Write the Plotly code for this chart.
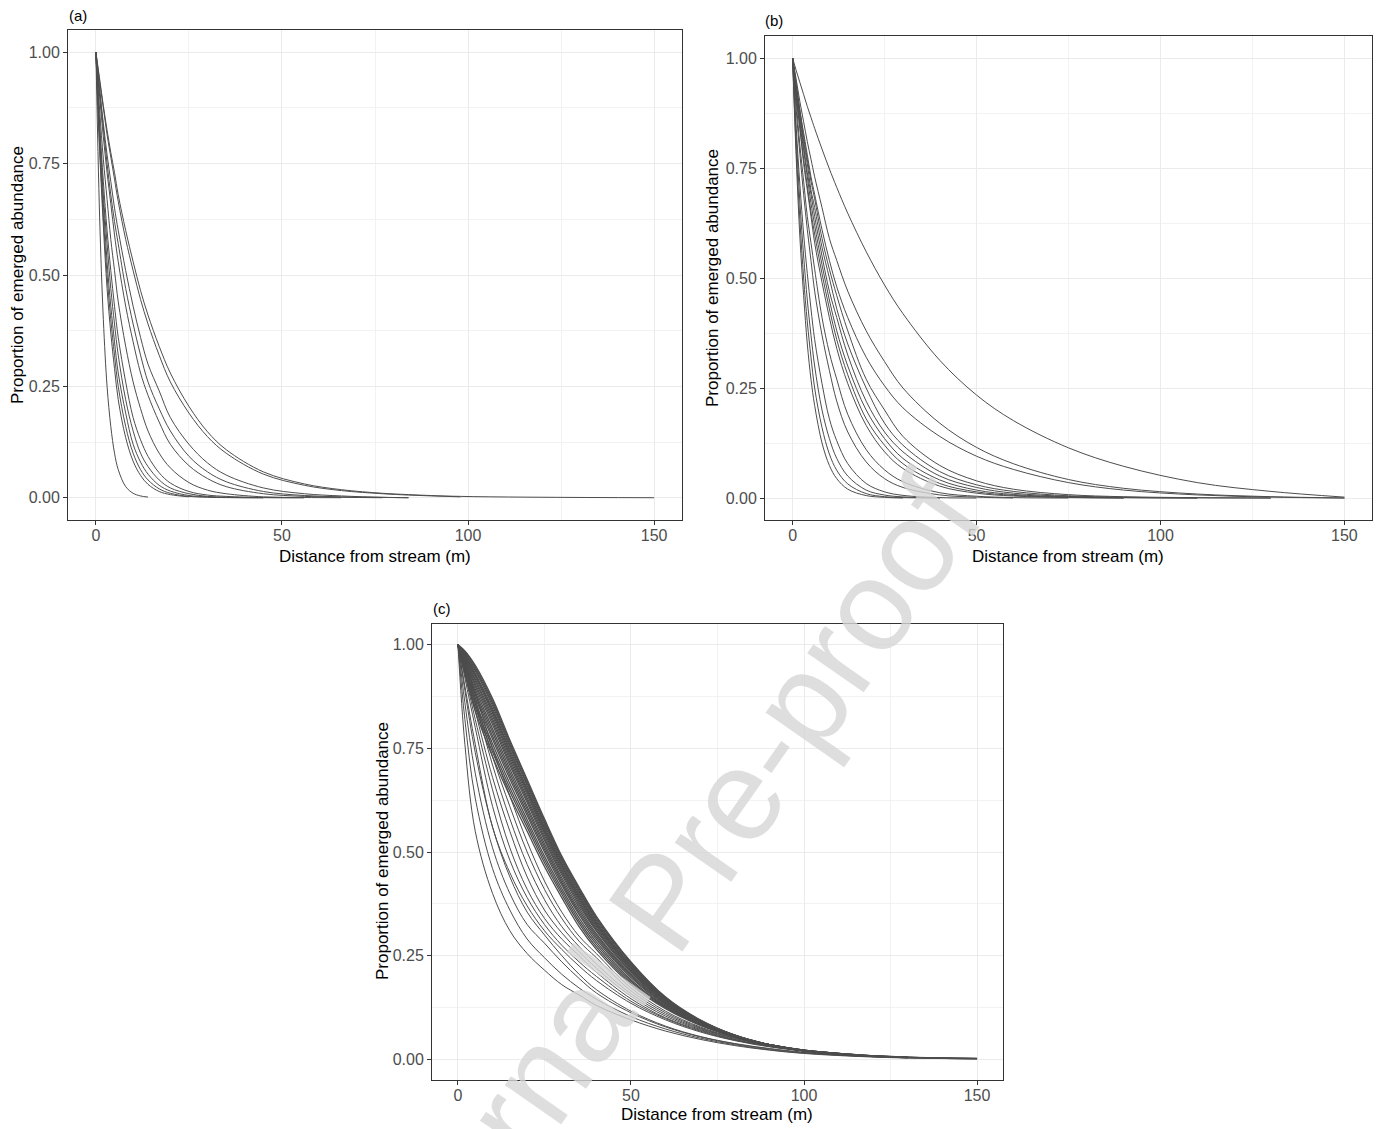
import plotly.graph_objects as go

FONT = "Liberation Sans, Arial, sans-serif"

# ---------------- Panel (a) ----------------
DIST_A = [0, 1, 2, 3, 4, 5, 6, 8, 10, 12, 14, 17, 20, 25, 30, 35, 45, 56, 66, 77, 84, 98, 150]
A01 = [1, .63, .40, .25, .16, .10, .063, .025, .010, .004, .0015]
A02 = [1, .78, .61, .47, .37, .29, .22, .135, .082, .05, .03, .014, .007, .002]
A03 = [1, .79, .63, .50, .40, .32, .25, .16, .10, .063, .04, .02, .01, .003, .001, .0003, 0]
A04 = [1, .81, .66, .53, .43, .35, .28, .19, .12, .08, .053, .028, .015, .005, .002, .0006, 0]
A05 = [1, .83, .68, .57, .47, .39, .32, .22, .15, .10, .07, .04, .022, .009, .003, .001, .0002, 0]
A06 = [1, .84, .71, .60, .51, .43, .36, .26, .18, .13, .093, .056, .033, .014, .006, .003, .0005, 0]
A07 = [1, .87, .76, .67, .58, .51, .44, .34, .26, .20, .15, .10, .067, .034, .017, .009, .002, .0005, 0]
A08 = [1, .90, .81, .73, .66, .59, .53, .43, .35, .28, .23, .17, .12, .072, .043, .025, .009, .003, .001, 0]
A09 = [1, .91, .83, .75, .68, .62, .57, .47, .39, .32, .26, .20, .15, .093, .058, .036, .014, .005, .002, .0007, 0]
A10 = [1, .92, .84, .77, .71, .65, .60, .51, .43, .36, .30, .24, .18, .12, .078, .051, .022, .009, .004, .001, 0]
A11 = [1, .935, .875, .815, .765, .715, .665, .58, .51, .445, .39, .32, .26, .19, .137, .10, .053, .028, .016, .009, .006, .002]
A12 = [1, .94, .88, .825, .775, .73, .68, .60, .53, .465, .41, .34, .28, .205, .148, .108, .058, .031, .018, .010, .007, .003, 0]
CURVES_A = [A01, A02, A03, A04, A05, A06, A07, A08, A09, A10, A11, A12]

# ---------------- Panel (b) ----------------
DIST_B = [0, 1, 2, 3, 4, 5, 6, 8, 10, 12, 15, 20, 25, 30, 40, 50, 60, 75, 90, 110, 130, 150]
B01 = [1, .77, .59, .46, .35, .27, .21, .125, .074, .044, .02, .0055, .0015, 0]
B02 = [1, .79, .63, .50, .40, .32, .25, .16, .10, .063, .032, .01, .003, .001, 0]
B03 = [1, .82, .67, .55, .45, .37, .30, .20, .135, .09, .05, .018, .0067, .0025, 0]
B04 = [1, .84, .71, .60, .51, .43, .36, .26, .18, .13, .078, .033, .014, .006, .001, 0]
B05 = [1, .88, .78, .69, .61, .54, .47, .37, .29, .22, .15, .082, .044, .024, .007, .002, 0]
B06 = [1, .90, .80, .72, .64, .58, .52, .41, .33, .27, .19, .11, .064, .037, .012, .004, .001, 0]
B07 = [1, .91, .84, .76, .70, .64, .58, .49, .41, .34, .26, .165, .105, .067, .027, .011, .0045, .001, 0]
B08 = [1, .92, .84, .77, .71, .65, .60, .51, .43, .36, .28, .18, .12, .078, .033, .014, .006, .0017, 0]
B09 = [1, .92, .85, .79, .73, .67, .62, .53, .45, .38, .30, .20, .135, .09, .041, .018, .008, .0025, .0007, 0]
B10 = [1, .93, .86, .80, .74, .69, .64, .55, .47, .41, .325, .22, .15, .105, .05, .024, .011, .0036, .0012, 0]
B11 = [1, .93, .87, .81, .76, .70, .66, .57, .50, .43, .35, .25, .17, .12, .06, .03, .015, .005, .0018, .0005, 0]
B12 = [1, .94, .88, .82, .77, .72, .68, .59, .52, .46, .38, .27, .20, .14, .074, .039, .02, .0076, .0029, .0008, 0]
B13 = [1, .95, .90, .855, .81, .77, .73, .66, .59, .54, .47, .38, .31, .25, .17, .115, .078, .042, .022, .009, .003, 0]
B14 = [1, .94, .88, .83, .78, .73, .69, .61, .54, .48, .41, .32, .255, .205, .14, .095, .065, .035, .018, .007, .002, 0]
B15 = [1, .971, .944, .917, .89, .865, .84, .793, .748, .706, .647, .56, .484, .419, .313, .234, .176, .114, .072, .035, .015, .002]
CURVES_B = [B01, B02, B03, B04, B05, B06, B07, B08, B09, B10, B11, B12, B13, B14, B15]

# ---------------- Panel (c) ----------------
DIST_C = [0, 2, 5, 10, 15, 20, 25, 30, 35, 40, 50, 60, 70, 80, 90, 100, 115, 130, 150]
L01 = [1, .76, .55, .40, .31, .255, .215, .18, .155, .13, .095, .068, .048, .033, .022, .014, .007, .003, .001]
L02 = [1, .82, .63, .46, .36, .29, .245, .205, .172, .145, .103, .073, .051, .035, .023, .015, .008, .004, .001]
L03 = [1, .86, .69, .51, .40, .325, .28, .235, .195, .16, .112, .078, .054, .037, .025, .016, .008, .004, .001]
L04 = [1, .89, .74, .56, .44, .355, .30, .25, .205, .168, .116, .080, .055, .038, .026, .017, .009, .004, .001]
M01 = [1, .90, .76, .56, .45, .37, .31, .265, .225, .19, .135, .095, .066, .045, .03, .02, .01, .005, .002]
M02 = [1, .92, .80, .61, .48, .39, .325, .275, .235, .20, .14, .098, .068, .046, .031, .02, .01, .005, .002]
M03 = [1, .93, .82, .65, .51, .41, .34, .29, .25, .21, .146, .10, .07, .047, .032, .021, .011, .005, .002]
M04 = [1, .94, .84, .68, .55, .44, .36, .305, .26, .22, .152, .104, .072, .048, .032, .021, .011, .005, .002]
M05 = [1, .95, .86, .71, .58, .47, .385, .32, .272, .23, .158, .108, .074, .05, .033, .022, .011, .005, .002]
M06 = [1, .955, .87, .73, .61, .50, .41, .34, .285, .245, .165, .112, .076, .051, .034, .022, .011, .005, .002]
M07 = [1, .96, .885, .75, .635, .525, .43, .355, .297, .255, .172, .116, .078, .052, .034, .022, .011, .005, .002]
D01 = [1, .93, .84, .73, .635, .55, .465, .39, .32, .265, .18, .122, .082, .054, .035, .022, .011, .005, .002]
D02 = [1, .934, .849, .741, .646, .56, .474, .398, .328, .271, .184, .124, .083, .054, .035, .022, .011, .005, .002]
D03 = [1, .938, .857, .751, .655, .569, .482, .405, .334, .277, .188, .126, .084, .055, .035, .022, .011, .005, .002]
D04 = [1, .942, .864, .761, .665, .578, .49, .412, .341, .283, .192, .128, .085, .055, .035, .022, .011, .005, .002]
D05 = [1, .947, .873, .772, .676, .588, .50, .42, .349, .289, .197, .130, .086, .055, .035, .021, .010, .005, .002]
D06 = [1, .95, .88, .78, .684, .595, .506, .426, .354, .294, .2, .132, .087, .055, .035, .021, .010, .005, .002]
D07 = [1, .953, .886, .789, .692, .603, .513, .432, .36, .299, .203, .134, .087, .056, .035, .021, .010, .005, .002]
D08 = [1, .956, .893, .797, .70, .61, .52, .438, .366, .303, .206, .135, .088, .056, .035, .021, .010, .005, .002]
D09 = [1, .96, .90, .807, .709, .619, .528, .445, .372, .309, .21, .137, .089, .056, .035, .021, .010, .004, .001]
D10 = [1, .963, .906, .814, .716, .625, .534, .45, .377, .313, .213, .139, .09, .056, .035, .021, .010, .004, .001]
D11 = [1, .966, .912, .821, .723, .631, .54, .455, .382, .317, .216, .14, .09, .057, .035, .021, .010, .004, .001]
D12 = [1, .969, .917, .828, .73, .638, .546, .46, .387, .321, .219, .142, .091, .057, .035, .021, .010, .004, .001]
D13 = [1, .971, .923, .835, .736, .644, .551, .465, .391, .325, .221, .143, .092, .057, .035, .021, .010, .004, .001]
D14 = [1, .973, .927, .841, .742, .649, .556, .469, .395, .328, .223, .144, .092, .057, .035, .020, .009, .004, .001]
D15 = [1, .976, .931, .846, .747, .654, .56, .473, .399, .331, .226, .145, .093, .057, .035, .020, .009, .004, .001]
D16 = [1, .978, .937, .853, .754, .66, .566, .478, .404, .335, .228, .147, .093, .058, .035, .020, .009, .004, .001]
D17 = [1, .981, .941, .859, .759, .665, .571, .482, .407, .339, .231, .148, .094, .058, .035, .020, .009, .004, .001]
D18 = [1, .983, .946, .864, .765, .67, .575, .486, .411, .342, .233, .149, .094, .058, .035, .020, .009, .004, .001]
D19 = [1, .985, .95, .87, .77, .675, .58, .49, .415, .345, .235, .15, .095, .058, .035, .02, .009, .004, .001]
CURVES_C_LOW = [L01, L02, L03, L04, M01, M02, M03, M04, M05, M06, M07]
END_C_LOW = [150, 150, 130, 130, 150, 150, 150, 130, 130, 115, 115]
CURVES_C_BAND = [D01, D02, D03, D04, D05, D06, D07, D08, D09, D10,
                 D11, D12, D13, D14, D15, D16, D17, D18, D19]
END_C_BAND = [130, 115, 100, 115, 100, 150, 100, 115, 130, 100,
              115, 100, 130, 100, 115, 100, 130, 115, 150]

X_TICKS = [0, 50, 100, 150]
X_TICKTEXT = ["0", "50", "100", "150"]
Y_TICKS = [0, 0.25, 0.5, 0.75, 1.0]
Y_TICKTEXT = ["0.00", "0.25", "0.50", "0.75", "1.00"]

X_TITLE = "Distance from stream (m)"
Y_TITLE = "Proportion of emerged abundance"
TAGS = ["(a)", "(b)", "(c)"]
WATERMARK = "Journal Pre-proof"

# page body has an 8px margin: lay out in screen pixels, then shift
OFF = 8
W, H = 1384 - OFF, 1129 - OFF
fig = go.Figure()


def add_curves(grid, curves, ends, n, width=1.0):
    sfx = "" if n == 1 else str(n)
    line = dict(color="#4d4d4d", width=width, shape="spline", smoothing=1.0)
    for ys, end in zip(curves, ends):
        xs = [x for x in grid[:len(ys)] if x <= end]
        fig.add_trace(go.Scatter(x=xs, y=ys[:len(xs)], mode="lines", line=line,
                                 xaxis="x" + sfx, yaxis="y" + sfx,
                                 showlegend=False, hoverinfo="skip"))


add_curves(DIST_A, CURVES_A, [150] * len(CURVES_A), 1)
add_curves(DIST_B, CURVES_B, [150] * len(CURVES_B), 2)
add_curves(DIST_C, CURVES_C_LOW, END_C_LOW, 3)
add_curves(DIST_C, CURVES_C_BAND, END_C_BAND, 3, width=1.3)


def fx(px):
    return (px - OFF) / W


def fy(py):
    return 1 - (py - OFF) / H


common = dict(ticks="outside", ticklen=4, tickwidth=1, tickcolor="#333333",
              showline=True, linecolor="#333333", linewidth=1, mirror=True,
              showgrid=True, gridcolor="#ebebeb", gridwidth=1, zeroline=False,
              tickfont=dict(family=FONT, size=16, color="#4d4d4d"))

panels = [  # (x px left/right, y px top/bottom) in screen pixels
    ((68, 682), (30, 520)),
    ((765, 1372), (36, 520)),
    ((432, 1003), (624, 1080)),
]
for i, ((xl, xr), (yt, yb)) in enumerate(panels, start=1):
    sfx = "" if i == 1 else str(i)
    fig.layout["xaxis" + sfx] = dict(
        domain=[fx(xl), fx(xr)], anchor="y" + sfx, range=[-7.5, 157.5],
        tickvals=X_TICKS, ticktext=X_TICKTEXT, ticklabelstandoff=-3,
        minor=dict(tickvals=[25, 75, 125], showgrid=True, gridcolor="#f2f2f2", gridwidth=1, ticks=""),
        **common)
    fig.layout["yaxis" + sfx] = dict(
        domain=[fy(yb), fy(yt)], anchor="x" + sfx, range=[-0.05, 1.05],
        tickvals=Y_TICKS, ticktext=Y_TICKTEXT,
        minor=dict(tickvals=[0.125, 0.375, 0.625, 0.875], showgrid=True, gridcolor="#f2f2f2", gridwidth=1, ticks=""),
        **common)

ann = []
for cx, cy in [(375, 556), (1068, 556), (717, 1114)]:
    ann.append(dict(text=X_TITLE, x=fx(cx), y=fy(cy), xref="paper", yref="paper",
                    xanchor="center", yanchor="middle", showarrow=False,
                    font=dict(family=FONT, size=17, color="#000000")))
for cx, cy in [(18, 275), (713, 278), (383, 851)]:
    ann.append(dict(text=Y_TITLE, x=fx(cx), y=fy(cy), xref="paper", yref="paper",
                    xanchor="center", yanchor="middle", showarrow=False, textangle=-90,
                    font=dict(family=FONT, size=17, color="#000000")))
for tag, (lx, cy) in zip(TAGS, [(67, 15), (763, 21), (431, 608)]):
    ann.append(dict(text=tag, x=fx(lx), y=fy(cy), xref="paper", yref="paper",
                    xanchor="left", yanchor="middle", showarrow=False,
                    font=dict(family=FONT, size=15, color="#000000")))
ann.append(dict(text=WATERMARK, x=fx(662), y=fy(902), xref="paper", yref="paper",
                xanchor="center", yanchor="middle", showarrow=False, textangle=-55,
                font=dict(family=FONT, size=130, color="rgba(214,214,214,0.8)")))

fig.update_layout(width=W, height=H, margin=dict(l=0, r=0, t=0, b=0),
                  paper_bgcolor="white", plot_bgcolor="white",
                  showlegend=False, annotations=ann)

fig.write_html("out.html")
